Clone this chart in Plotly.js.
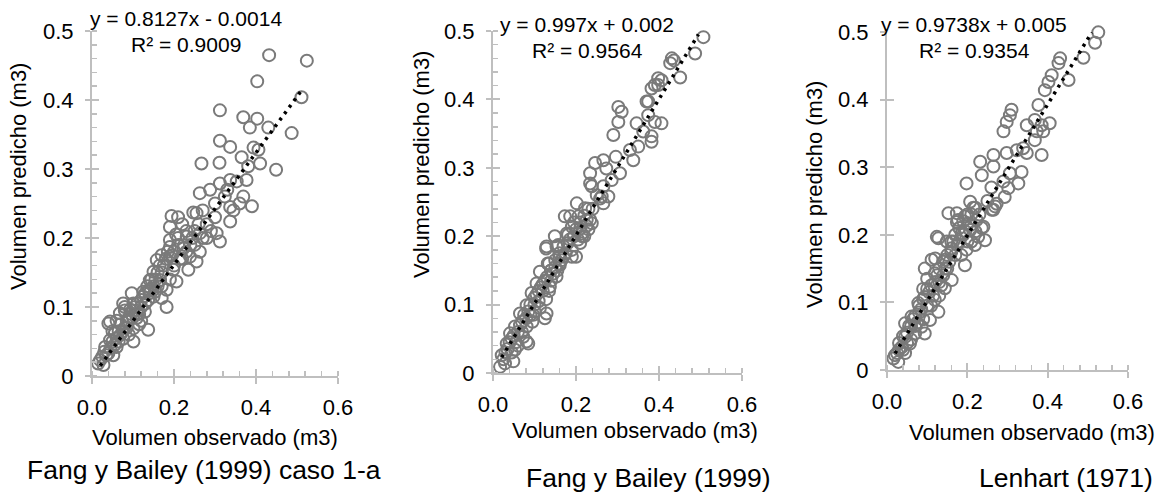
<!DOCTYPE html>
<html>
<head>
<meta charset="utf-8">
<script src="https://cdn.plot.ly/plotly-3.0.1.min.js"></script>
<style>html,body{margin:0;padding:0;background:#fff;}#chart{width:1155px;height:493px;}</style>
</head>
<body>
<div id="chart"></div>
<script>
// ---------- DATA ----------
const panelTitles = ['Fang y Bailey (1999) caso 1-a', 'Fang y Bailey (1999)', 'Lenhart (1971)'];
const eqTexts = ['y = 0.8127x - 0.0014', 'y = 0.997x + 0.002', 'y = 0.9738x + 0.005'];
const r2Texts = ['R² = 0.9009', 'R² = 0.9564', 'R² = 0.9354'];
const xTitle = 'Volumen observado (m3)';
const yTitle = 'Volumen predicho (m3)';
const xTickVals = [0, 0.2, 0.4, 0.6];
const xTickText = ['0.0', '0.2', '0.4', '0.6'];
const yTickVals = [0, 0.1, 0.2, 0.3, 0.4, 0.5];
const yTickText = ['0', '0.1', '0.2', '0.3', '0.4', '0.5'];

// Panel 1: Fang y Bailey (1999) caso 1-a
const obs1 = [0.432,0.524,0.403,0.511,0.312,0.369,0.403,0.385,0.430,0.487,0.312,0.337,0.394,0.406,0.365,0.267,0.311,0.410,0.449,0.381,0.337,0.312,0.353,0.377,0.288,0.263,0.324,0.369,0.300,0.337,0.390,0.345,0.247,0.194,
 0.255,0.190,0.337,0.304,0.263,0.231,0.190,0.312,0.190,0.223,0.263,0.239,0.190,0.158,0.255,0.235,0.198,0.150,0.166,0.206,0.141,0.182,0.154,0.125,0.170,0.137,0.182,0.097,0.101,0.076,0.129,0.093,0.068,0.040,0.109,0.137,0.085,0.101,0.056,0.076,0.044,0.101,0.032,0.060,0.040,0.020,0.028,0.015,0.052,0.044,
 0.21,0.22,0.20,0.17,0.16,0.12,0.11,0.09,0.08,0.07,0.06,0.05,0.12,0.14,0.23,0.25,0.28,0.27,0.21,0.28,0.30,0.33,0.36,0.15,0.19,0.13,0.08,0.10,0.035,0.065,0.09,0.115,0.025,0.17,0.205,0.22,0.26,0.24,
 0.03,0.045,0.055,0.065,0.07,0.075,0.085,0.09,0.095,0.10,0.105,0.115,0.12,0.125,0.13,0.135,0.14,0.145,0.155,0.16,0.165,0.175,0.18,0.185,0.195,0.20,0.21,0.215,0.225,0.23,0.245,0.25,0.27,0.29,0.06,0.08,0.05,0.11,0.15,0.17];
const pred1 = [0.465,0.457,0.427,0.404,0.385,0.375,0.373,0.360,0.360,0.352,0.341,0.332,0.331,0.328,0.317,0.308,0.309,0.308,0.299,0.304,0.284,0.279,0.282,0.284,0.270,0.265,0.260,0.260,0.250,0.245,0.246,0.240,0.237,0.232,
 0.236,0.216,0.224,0.207,0.207,0.202,0.197,0.195,0.187,0.185,0.180,0.173,0.173,0.168,0.166,0.154,0.154,0.151,0.139,0.137,0.139,0.125,0.122,0.122,0.113,0.110,0.100,0.120,0.105,0.105,0.093,0.096,0.091,0.076,0.084,0.067,0.079,0.069,0.062,0.054,0.052,0.050,0.042,0.042,0.033,0.023,0.016,0.018,0.030,0.079,
 0.19,0.17,0.16,0.15,0.13,0.10,0.09,0.085,0.07,0.075,0.055,0.05,0.08,0.12,0.21,0.19,0.22,0.24,0.23,0.20,0.23,0.27,0.25,0.13,0.14,0.105,0.095,0.085,0.03,0.065,0.06,0.075,0.028,0.175,0.205,0.22,0.22,0.19,
 0.035,0.04,0.045,0.05,0.06,0.065,0.07,0.08,0.09,0.095,0.10,0.09,0.11,0.115,0.12,0.13,0.125,0.14,0.14,0.15,0.16,0.16,0.17,0.18,0.175,0.18,0.20,0.17,0.19,0.18,0.20,0.21,0.20,0.21,0.08,0.10,0.065,0.105,0.115,0.13];
const trend1X = [0.020, 0.515];
const trend1Y = [0.015, 0.417];

// Panel 2: Fang y Bailey (1999)
const obs2 = [0.507,0.487,0.451,0.431,0.427,0.406,0.398,0.382,0.374,0.302,0.310,0.302,0.290,0.346,0.374,0.390,0.406,0.362,0.382,0.382,0.350,0.330,0.338,0.296,0.266,0.246,0.273,0.234,0.306,0.238,0.266,0.286,0.262,0.278,0.266,0.202,0.222,0.206,0.173,0.226,0.190,0.238,0.181,0.214,0.149,0.129,0.157,0.436,0.398,0.390,0.370,
 0.258,0.234,0.186,0.234,0.210,0.178,0.128,0.153,0.210,0.200,0.161,0.132,0.113,0.153,0.137,0.105,0.093,0.128,0.081,0.113,0.065,0.097,0.129,0.125,0.053,0.081,0.041,0.073,0.085,0.033,0.053,0.021,0.029,0.049,0.017,0.081,
 0.17,0.19,0.22,0.14,0.12,0.10,0.09,0.07,0.06,0.045,0.11,0.16,0.18,0.20,0.24,0.25,0.14,0.10,0.075,0.035,0.025,0.16,0.23,0.195,0.15,
 0.03,0.04,0.05,0.055,0.065,0.07,0.08,0.085,0.09,0.10,0.105,0.11,0.115,0.12,0.125,0.13,0.135,0.14,0.145,0.15,0.155,0.16,0.165,0.17,0.175,0.185,0.19,0.195,0.205,0.21,0.215,0.22,0.225,0.23,0.06,0.045,0.095,0.135];
const pred2 = [0.491,0.467,0.432,0.460,0.453,0.428,0.421,0.416,0.397,0.389,0.382,0.367,0.348,0.365,0.377,0.367,0.365,0.353,0.346,0.338,0.331,0.326,0.311,0.316,0.311,0.307,0.299,0.292,0.292,0.273,0.273,0.282,0.258,0.258,0.248,0.248,0.241,0.229,0.229,0.224,0.214,0.219,0.202,0.204,0.200,0.185,0.187,0.457,0.431,0.421,0.397,
 0.255,0.277,0.229,0.224,0.211,0.204,0.182,0.185,0.190,0.170,0.158,0.160,0.148,0.141,0.126,0.131,0.117,0.108,0.099,0.095,0.087,0.085,0.087,0.080,0.068,0.068,0.058,0.053,0.043,0.043,0.034,0.026,0.014,0.017,0.009,0.046,
 0.17,0.18,0.20,0.15,0.13,0.11,0.10,0.075,0.06,0.05,0.12,0.175,0.19,0.21,0.24,0.26,0.135,0.09,0.085,0.035,0.02,0.16,0.21,0.22,0.155,
 0.03,0.045,0.055,0.045,0.07,0.06,0.08,0.09,0.085,0.10,0.115,0.105,0.125,0.12,0.135,0.14,0.12,0.15,0.145,0.165,0.15,0.17,0.165,0.185,0.175,0.195,0.17,0.20,0.195,0.22,0.20,0.23,0.215,0.24,0.04,0.03,0.075,0.16];
const trend2X = [0.021, 0.495];
const trend2Y = [0.023, 0.495];

// Panel 3: Lenhart (1971)
const obs3 = [0.526,0.518,0.489,0.431,0.427,0.452,0.410,0.402,0.393,0.377,0.310,0.306,0.298,0.290,0.368,0.385,0.405,0.348,0.373,0.389,0.368,0.339,0.323,0.348,0.385,0.298,0.265,0.232,0.265,0.306,0.335,0.236,0.290,0.327,0.198,0.302,0.293,0.207,0.273,0.265,0.153,0.174,0.194,0.174,0.223,0.240,0.207,0.124,0.190,0.227,0.149,
 0.269,0.261,0.177,0.202,0.236,0.186,0.128,0.244,0.161,0.198,0.219,0.111,0.144,0.194,0.094,0.119,0.161,0.144,0.094,0.119,0.078,0.128,0.107,0.061,0.045,0.086,0.070,0.094,0.045,0.037,0.057,0.020,0.028,0.016,0.045,
 0.17,0.18,0.21,0.14,0.13,0.10,0.08,0.06,0.05,0.03,0.11,0.15,0.21,0.22,0.25,0.26,0.13,0.09,0.07,0.025,0.16,0.20,
 0.03,0.04,0.05,0.055,0.065,0.07,0.075,0.08,0.085,0.09,0.10,0.105,0.11,0.115,0.12,0.125,0.13,0.135,0.14,0.145,0.15,0.155,0.16,0.165,0.17,0.175,0.18,0.185,0.19,0.195,0.20,0.21,0.215,0.22,0.23,0.12,0.10,0.09,0.06,0.04];
const pred3 = [0.4995,0.484,0.462,0.461,0.454,0.429,0.436,0.426,0.414,0.392,0.385,0.377,0.367,0.353,0.370,0.362,0.365,0.362,0.353,0.353,0.340,0.328,0.325,0.321,0.318,0.321,0.318,0.308,0.301,0.291,0.293,0.288,0.279,0.276,0.276,0.269,0.256,0.249,0.246,0.237,0.232,0.232,0.227,0.219,0.222,0.212,0.207,0.197,0.200,0.197,0.190,
 0.242,0.237,0.222,0.217,0.210,0.202,0.195,0.192,0.180,0.178,0.185,0.163,0.163,0.155,0.150,0.143,0.133,0.121,0.108,0.104,0.099,0.086,0.074,0.079,0.069,0.064,0.054,0.054,0.049,0.034,0.039,0.022,0.012,0.017,0.025,
 0.17,0.19,0.19,0.14,0.13,0.12,0.085,0.065,0.055,0.03,0.095,0.15,0.23,0.24,0.25,0.27,0.11,0.075,0.065,0.025,0.19,0.19,
 0.04,0.05,0.04,0.065,0.075,0.08,0.07,0.095,0.09,0.105,0.095,0.115,0.125,0.11,0.13,0.14,0.15,0.125,0.16,0.15,0.17,0.16,0.175,0.19,0.20,0.185,0.21,0.17,0.22,0.205,0.23,0.215,0.24,0.205,0.23,0.165,0.135,0.12,0.045,0.03];
const trend3X = [0.020, 0.510];
const trend3Y = [0.0245, 0.4995];

// ---------- LAYOUT HELPERS ----------
const W = 1155, H = 493;
const FONT = 'Liberation Sans, Arial, sans-serif';
const AXC = '#BFBFBF';
const MK = '#7a7a7a';
const TXT = 22;
const EQ = 21;

// plot-area pixel boxes [left, right, top(y=0.5), bottom(y=0)]
const boxes = [[92, 338, 31, 376], [493, 742, 31, 373], [887, 1128, 32, 370]];
const yMinor = [true, true, false];

const data = [];
const layout = {
  width: W, height: H,
  margin: {l: 0, r: 0, t: 0, b: 0},
  paper_bgcolor: '#fff', plot_bgcolor: 'rgba(0,0,0,0)',
  showlegend: false,
  font: {family: FONT, color: '#000'},
  annotations: []
};

const obsList = [obs1, obs2, obs3];
const predList = [pred1, pred2, pred3];
const tXList = [trend1X, trend2X, trend3X];
const tYList = [trend1Y, trend2Y, trend3Y];

function ann(text, px, py, size, angle) {
  return {text: text, xref: 'paper', yref: 'paper', x: px / W, y: 1 - py / H,
    xanchor: 'center', yanchor: 'middle', showarrow: false, textangle: angle || 0, borderpad: 0,
    font: {family: FONT, size: size, color: '#000'}};
}

for (let i = 0; i < 3; i++) {
  const n = i + 1;
  const xs = n === 1 ? '' : String(n);
  const b = boxes[i];
  const xd = [b[0] / W, b[1] / W];
  const yd = [1 - b[3] / H, 1 - b[2] / H];
  const xo = 'x' + (n + 3), yo = 'y' + (n + 3);

  layout['xaxis' + xs] = {
    domain: xd, anchor: 'y' + xs, range: [0, 0.6], tickvals: xTickVals, ticktext: xTickText,
    showline: true, linecolor: AXC, linewidth: 2, ticks: 'outside', ticklen: 6, tickwidth: 2, tickcolor: AXC,
    showgrid: false, zeroline: false, ticklabelstandoff: 5,
    tickfont: {family: FONT, size: TXT, color: '#000'},
    minor: {ticks: 'inside', dtick: 0.04, tick0: 0, ticklen: 5, tickwidth: 1.5, tickcolor: AXC, showgrid: false},
    fixedrange: true
  };
  layout['yaxis' + xs] = {
    domain: yd, anchor: 'x' + xs, range: [0, 0.5], tickvals: yTickVals, ticktext: yTickText,
    showline: true, linecolor: AXC, linewidth: 2, ticks: 'outside', ticklen: 5, tickwidth: 2, tickcolor: AXC,
    showgrid: false, zeroline: false, ticklabelstandoff: 7,
    tickfont: {family: FONT, size: TXT, color: '#000'},
    fixedrange: true
  };
  if (yMinor[i]) {
    layout['yaxis' + xs].minor = {ticks: 'inside', dtick: 0.02, tick0: 0, ticklen: 5, tickwidth: 1.5, tickcolor: AXC, showgrid: false};
  }
  // overlay axes draw the inner half of the crossing major ticks
  layout['xaxis' + (n + 3)] = {
    overlaying: 'x' + xs, anchor: 'y' + xs, range: [0, 0.6], tickvals: xTickVals,
    showticklabels: false, ticks: 'inside', ticklen: 7, tickwidth: 2, tickcolor: AXC,
    showline: false, showgrid: false, zeroline: false, fixedrange: true
  };
  layout['yaxis' + (n + 3)] = {
    overlaying: 'y' + xs, anchor: 'x' + xs, range: [0, 0.5], tickvals: yTickVals,
    showticklabels: false, ticks: 'inside', ticklen: 7, tickwidth: 2, tickcolor: AXC,
    showline: false, showgrid: false, zeroline: false, fixedrange: true
  };

  data.push({
    type: 'scatter', mode: 'markers', x: obsList[i], y: predList[i],
    xaxis: 'x' + xs, yaxis: 'y' + xs, cliponaxis: false, hoverinfo: 'skip',
    marker: {symbol: 'circle-open', size: 12, color: MK, line: {color: MK, width: 2}}
  });
  data.push({
    type: 'scatter', mode: 'lines', x: tXList[i], y: tYList[i],
    xaxis: 'x' + xs, yaxis: 'y' + xs, cliponaxis: false, hoverinfo: 'skip',
    line: {color: '#000', width: 3.5, dash: '3px,5px'}
  });
  data.push({
    type: 'scatter', mode: 'markers', x: [], y: [], xaxis: xo, yaxis: yo, hoverinfo: 'skip', showlegend: false
  });
}

const eqPos = [[186, 18, 44.5], [587, 24, 50.5], [974, 24, 51]];
const yTitlePos = [[18, 177], [421, 165], [814, 195]];
const xTitlePos = [[215, 437], [635, 430], [1032, 432]];
const botPos = [[204, 470], [648, 478], [1066, 478]];
for (let i = 0; i < 3; i++) {
  layout.annotations.push(ann(eqTexts[i], eqPos[i][0], eqPos[i][1], EQ));
  layout.annotations.push(ann(r2Texts[i], eqPos[i][0], eqPos[i][2], EQ));
  layout.annotations.push(ann(yTitle, yTitlePos[i][0], yTitlePos[i][1], TXT, -90));
  layout.annotations.push(ann(xTitle, xTitlePos[i][0], xTitlePos[i][1], TXT));
  layout.annotations.push(ann(panelTitles[i], botPos[i][0], botPos[i][1], 26.5));
}

Plotly.newPlot('chart', data, layout, {displayModeBar: false, staticPlot: true});
</script>
</body>
</html>
